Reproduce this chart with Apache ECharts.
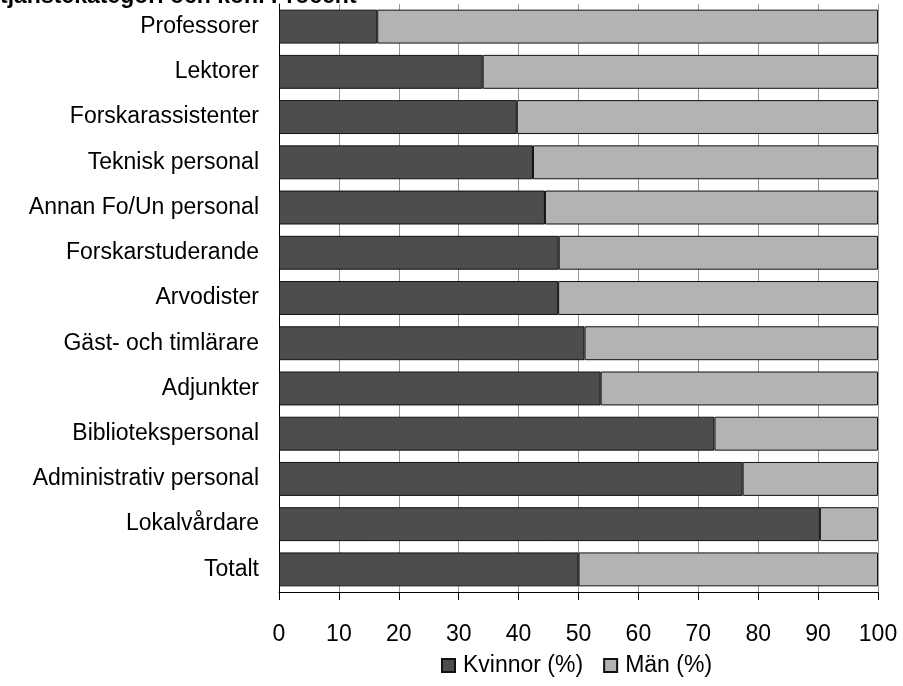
<!DOCTYPE html>
<html>
<head>
<meta charset="utf-8">
<script src="https://cdn.jsdelivr.net/npm/echarts@6/dist/echarts.min.js"></script>
<style>html,body{margin:0;padding:0;background:#fff;}#c{width:903px;height:686px;}</style>
</head>
<body>
<div id="c"></div>
<script>
const titleText = "tjänstekategori och kön. Procent";
const categories = ["Professorer","Lektorer","Forskarassistenter","Teknisk personal","Annan Fo/Un personal","Forskarstuderande","Arvodister","Gäst- och timlärare","Adjunkter","Bibliotekspersonal","Administrativ personal","Lokalvårdare","Totalt"];
const kvinnor = [16.4, 34.0, 39.7, 42.4, 44.4, 46.7, 46.6, 51.0, 53.7, 72.7, 77.4, 90.3, 50.0];
const man = [83.6, 66.0, 60.3, 57.6, 55.6, 53.3, 53.4, 49.0, 46.3, 27.3, 22.6, 9.7, 50.0];
const xTicks = [0,10,20,30,40,50,60,70,80,90,100];

const font = "'Liberation Sans', Arial, sans-serif";
const fs = 23;
const chart = echarts.init(document.getElementById('c'), null, {renderer:'canvas'});
chart.setOption({
  animation:false,
  backgroundColor:'#fff',
  title:{text:titleText,left:0,top:-15,padding:0,textStyle:{fontFamily:font,fontSize:fs,fontWeight:'bold',color:'#000'}},
  grid:{left:279,right:25,top:4,bottom:94,containLabel:false},
  legend:{
    data:['Kvinnor (%)','Män (%)'],
    left:441, top:654,
    itemWidth:13,itemHeight:13,itemGap:20,icon:'rect',padding:0,
    textStyle:{fontFamily:font,fontSize:fs,color:'#000',padding:[0,0,0,3]}
  },
  xAxis:{
    type:'value',min:xTicks[0],max:xTicks[xTicks.length-1],interval:10,
    axisLine:{show:true,lineStyle:{color:'#000',width:1}},
    axisTick:{show:true,length:8,lineStyle:{color:'#000'}},
    axisLabel:{margin:31,fontFamily:font,fontSize:fs,color:'#000'},
    splitLine:{show:true,lineStyle:{color:'#999',width:1}}
  },
  yAxis:{
    type:'category',data:categories,inverse:true,
    axisLine:{show:true,lineStyle:{color:'#000',width:1}},
    axisTick:{show:false},
    axisLabel:{margin:20,fontFamily:font,fontSize:fs,color:'#000'}
  },
  series:[
    {name:'Kvinnor (%)',type:'bar',stack:'t',data:kvinnor,barCategoryGap:'25%',
     itemStyle:{color:'#4d4d4d',borderColor:'#111',borderWidth:1}},
    {name:'Män (%)',type:'bar',stack:'t',data:man,barCategoryGap:'25%',
     itemStyle:{color:'#b3b3b3',borderColor:'#111',borderWidth:1}}
  ]
});
</script>
</body>
</html>
